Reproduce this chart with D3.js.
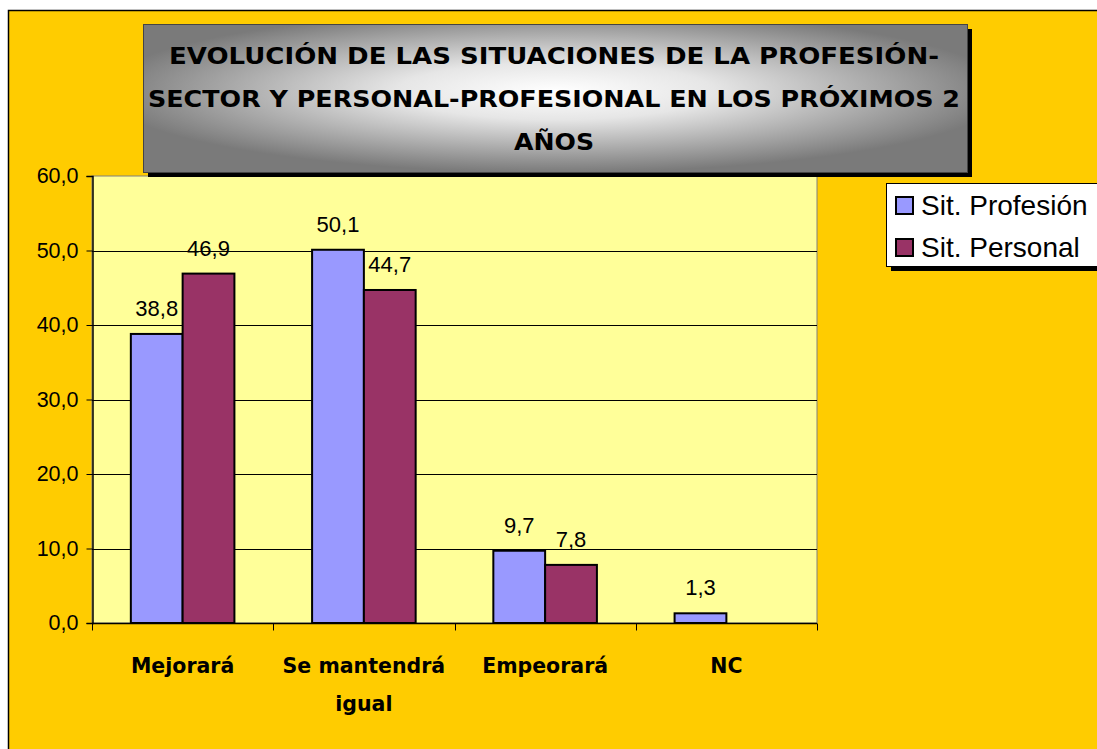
<!DOCTYPE html>
<html>
<head>
<meta charset="utf-8">
<script src="https://cdn.jsdelivr.net/npm/d3@7"></script>
<style>
  body { margin: 0; background: #fff; }
  svg { display: block; }
</style>
</head>
<body>
<svg id="chart" width="1097" height="749"></svg>
<script>
// Datos del gráfico
const categorias = ["Mejorará", "Se mantendrá igual", "Empeorará", "NC"];
const series = ["Sit. Profesión", "Sit. Personal"];
const sitProfesion = [38.8, 50.1, 9.7, 1.3];
const sitPersonal = [46.9, 44.7, 7.8, null];
const yTicks = [0, 10, 20, 30, 40, 50, 60];
const tituloLineas = [
  "EVOLUCIÓN DE LAS SITUACIONES DE LA PROFESIÓN-",
  "SECTOR Y PERSONAL-PROFESIONAL EN LOS PRÓXIMOS 2",
  "AÑOS"
];

const colores = ["#9999FF", "#993366"];
const fmt = v => d3.format(".1f")(v).replace(".", ",");

const svg = d3.select("#chart");
const width = +svg.attr("width");
const height = +svg.attr("height");

// Área del gráfico (fondo amarillo)
svg.append("rect")
  .attr("x", 8.5).attr("y", 10.5)
  .attr("width", width).attr("height", height)
  .attr("fill", "#FFCC00")
  .attr("stroke", "#000").attr("stroke-width", 1.5);

// Área de trazado
const plot = { left: 92, top: 176, right: 817, bottom: 623 };

const x = d3.scaleBand()
  .domain(categorias)
  .range([plot.left, plot.right])
  .paddingInner(0).paddingOuter(0);

const y = d3.scaleLinear()
  .domain([0, 60])
  .range([plot.bottom, plot.top]);

svg.append("rect")
  .attr("x", plot.left).attr("y", plot.top)
  .attr("width", plot.right - plot.left)
  .attr("height", plot.bottom - plot.top)
  .attr("fill", "#FFFF99")
  .attr("stroke", "#808080").attr("stroke-width", 1);

// Líneas de división
svg.append("g")
  .selectAll("line")
  .data(yTicks.filter(d => d > 0 && d < 60))
  .join("line")
  .attr("x1", plot.left).attr("x2", plot.right)
  .attr("y1", d => Math.round(y(d)) + 0.5)
  .attr("y2", d => Math.round(y(d)) + 0.5)
  .attr("stroke", "#000").attr("stroke-width", 1);

// Eje Y
const yAxis = svg.append("g")
  .attr("transform", `translate(${plot.left + 0.5},0)`)
  .call(d3.axisLeft(y).tickValues(yTicks).tickFormat(fmt).tickSize(6).tickPadding(8));
yAxis.select(".domain").attr("stroke", "#000").attr("stroke-width", 1.5);
yAxis.selectAll(".tick line").attr("stroke", "#000");
yAxis.selectAll("text")
  .attr("font-family", "Liberation Sans, Arial, sans-serif")
  .attr("font-size", 21.5)
  .attr("fill", "#000");

// Eje X
const xAxis = svg.append("g")
  .attr("transform", `translate(0,${plot.bottom + 0.5})`);
xAxis.append("line")
  .attr("x1", plot.left).attr("x2", plot.right)
  .attr("stroke", "#000").attr("stroke-width", 1.5);
xAxis.selectAll(".tk")
  .data(categorias.map(c => x(c)).concat([plot.right]))
  .join("line")
  .attr("class", "tk")
  .attr("x1", d => Math.round(d) + 0.5).attr("x2", d => Math.round(d) + 0.5)
  .attr("y1", 0).attr("y2", 7)
  .attr("stroke", "#000");

// Etiquetas de categorías (con salto de línea si no caben)
const catLabels = svg.append("g")
  .selectAll("text")
  .data(categorias)
  .join("text")
  .attr("x", d => x(d) + x.bandwidth() / 2)
  .attr("y", 673)
  .attr("text-anchor", "middle")
  .attr("font-family", "DejaVu Sans, sans-serif")
  .attr("font-weight", "bold")
  .attr("font-size", 20.5);

catLabels.each(function(d) {
  const t = d3.select(this);
  const palabras = d.split(" ");
  let linea = [];
  let tspan = t.append("tspan").attr("x", x(d) + x.bandwidth() / 2).attr("dy", 0);
  palabras.forEach(p => {
    linea.push(p);
    tspan.text(linea.join(" "));
    if (tspan.node().getComputedTextLength() > x.bandwidth() - 10 && linea.length > 1) {
      linea.pop();
      tspan.text(linea.join(" "));
      linea = [p];
      tspan = t.append("tspan").attr("x", x(d) + x.bandwidth() / 2).attr("dy", 38).text(p);
    }
  });
});

// Barras
const barW = x.bandwidth() / 3.5;
const datos = categorias.map((c, i) => [
  { cat: c, s: 0, v: sitProfesion[i] },
  { cat: c, s: 1, v: sitPersonal[i] }
]).flat().filter(d => d.v != null);

svg.append("g")
  .selectAll("rect")
  .data(datos)
  .join("rect")
  .attr("x", d => x(d.cat) + barW * 0.75 + d.s * barW)
  .attr("y", d => y(d.v))
  .attr("width", barW)
  .attr("height", d => y(0) - y(d.v))
  .attr("fill", d => colores[d.s])
  .attr("stroke", "#000").attr("stroke-width", 2);

// Etiquetas de datos
svg.append("g")
  .selectAll("text")
  .data(datos)
  .join("text")
  .attr("x", d => x(d.cat) + barW * 0.75 + d.s * barW + barW / 2)
  .attr("y", d => y(d.v) - 18)
  .attr("text-anchor", "middle")
  .attr("font-family", "Liberation Sans, Arial, sans-serif")
  .attr("font-size", 22)
  .attr("fill", "#000")
  .text(d => fmt(d.v));

// Título con degradado
const defs = svg.append("defs");
const grad = defs.append("radialGradient")
  .attr("id", "gradTitulo")
  .attr("cx", "50%").attr("cy", "45%").attr("r", "55%");
grad.append("stop").attr("offset", "0%").attr("stop-color", "#ffffff");
grad.append("stop").attr("offset", "35%").attr("stop-color", "#e6e6e6");
grad.append("stop").attr("offset", "100%").attr("stop-color", "#7a7a7a");

const tBox = { x: 143, y: 24, w: 824, h: 148 };
svg.append("rect")
  .attr("x", tBox.x + 5).attr("y", tBox.y + 5)
  .attr("width", tBox.w).attr("height", tBox.h)
  .attr("fill", "#000");
svg.append("rect")
  .attr("x", tBox.x + 0.5).attr("y", tBox.y + 0.5)
  .attr("width", tBox.w).attr("height", tBox.h)
  .attr("fill", "url(#gradTitulo)")
  .attr("stroke", "#444").attr("stroke-width", 1);

const anchos = [770, 812, 80];
svg.append("g")
  .selectAll("text")
  .data(tituloLineas)
  .join("text")
  .attr("x", 554)
  .attr("y", (d, i) => 64 + i * 43)
  .attr("text-anchor", "middle")
  .attr("font-family", "DejaVu Sans, sans-serif")
  .attr("font-weight", "bold")
  .attr("font-size", 23)
  .attr("textLength", (d, i) => anchos[i])
  .attr("lengthAdjust", "spacingAndGlyphs")
  .attr("fill", "#000")
  .text(d => d);

// Leyenda
const leg = { x: 886, y: 183, w: 230, h: 83 };
svg.append("rect")
  .attr("x", leg.x + 5).attr("y", leg.y + 5)
  .attr("width", leg.w).attr("height", leg.h)
  .attr("fill", "#000");
svg.append("rect")
  .attr("x", leg.x + 0.5).attr("y", leg.y + 0.5)
  .attr("width", leg.w).attr("height", leg.h)
  .attr("fill", "#fff")
  .attr("stroke", "#000").attr("stroke-width", 1);

const legItems = svg.append("g")
  .selectAll("g")
  .data(series)
  .join("g")
  .attr("transform", (d, i) => `translate(896,${197 + i * 42})`);
legItems.append("rect")
  .attr("width", 17).attr("height", 17)
  .attr("fill", (d, i) => colores[i])
  .attr("stroke", "#000").attr("stroke-width", 2);
legItems.append("text")
  .attr("x", 25).attr("y", 18)
  .attr("font-family", "Liberation Sans, Arial, sans-serif")
  .attr("font-size", 28)
  .attr("fill", "#000")
  .text(d => d);
</script>
</body>
</html>
